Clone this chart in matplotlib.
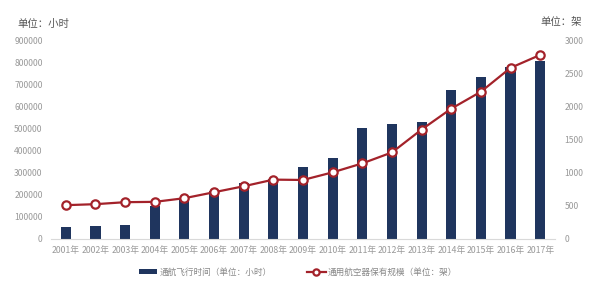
import matplotlib.pyplot as plt
import numpy as np

plt.rcParams['font.family'] = ['Noto Sans CJK SC', 'DejaVu Sans']

# data
years = [f'{y}年' for y in range(2001, 2018)]
flight_hours = [54000, 59000, 63000, 149000, 184000, 215000, 252000, 272000, 326000,
                367000, 502000, 520000, 529000, 674000, 733000, 778000, 805000]
fleet_size = [510, 525, 555, 560, 615, 705, 795, 895, 890, 1005, 1140, 1305, 1650,
              1965, 2220, 2580, 2775]

bar_color = '#1f355e'
line_color = '#a3222a'
tick_color = '#999999'

fig = plt.figure(figsize=(5.96, 2.96), dpi=100)
ax = fig.add_axes([51 / 596, 1 - 239 / 296, 504 / 596, 199 / 296])
ax2 = ax.twinx()

x = np.arange(len(years))
ax.bar(x, flight_hours, width=0.34, color=bar_color, label='通航飞行时间（单位：小时）', zorder=2)
ax2.plot(x, fleet_size, color=line_color, lw=1.6, marker='o', ms=6,
         mfc='white', mec=line_color, mew=1.6, label='通用航空器保有规模（单位：架）', zorder=3)

ax.set_xlim(-0.5, len(years) - 0.5)
ax.set_ylim(0, 900000)
ax2.set_ylim(0, 3000)
ax.set_yticks(np.arange(0, 900001, 100000))
ax2.set_yticks(np.arange(0, 3001, 500))
ax.set_xticks(x)
ax.set_xticklabels(years)

for a in (ax, ax2):
    for s in a.spines.values():
        s.set_visible(False)
    a.tick_params(length=0, labelsize=6.2, colors=tick_color)
ax.spines['bottom'].set_visible(True)
ax.spines['bottom'].set_color('#d9d9d9')
ax.tick_params(axis='x', pad=5, labelsize=6.3)
ax.tick_params(axis='y', pad=6)
ax2.tick_params(axis='y', pad=7)

fig.text(17 / 596, 1 - 24 / 296, '单位：小时', fontsize=7.5, color='#555555', va='center')
fig.text(582 / 596, 1 - 22 / 296, '单位：架', fontsize=7.5, color='#555555', va='center', ha='right')

h1, l1 = ax.get_legend_handles_labels()
h2, l2 = ax2.get_legend_handles_labels()
leg = fig.legend(h1 + h2, l1 + l2, loc='center', bbox_to_anchor=(0.5, 1 - 272 / 296), ncol=2,
                 frameon=False, fontsize=6.2, labelcolor='#888888', handlelength=2.2,
                 handleheight=0.4, columnspacing=4, handletextpad=0.3, markerscale=0.75)

fig.savefig('out.png', dpi=100)
